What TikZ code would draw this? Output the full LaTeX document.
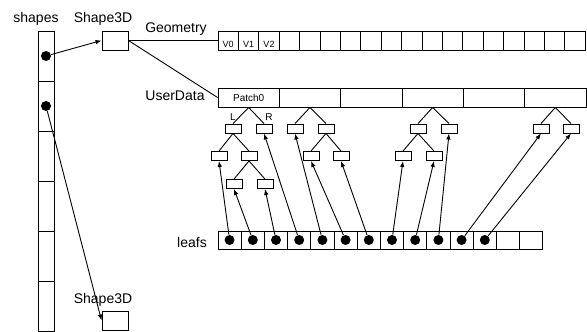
\documentclass[tikz,border=0pt]{standalone}
\usepackage{fontspec}
\setmainfont{Liberation Sans}
\usetikzlibrary{arrows.meta}

\tikzset{
  cell/.style={draw, inner sep=0pt, minimum height=19pt},
  tnode/.style={draw, inner sep=0pt, minimum width=16pt, minimum height=9pt},
  dot/.style={circle, fill=black, inner sep=0pt, minimum size=10pt},
  ptr/.style={-{Latex[length=6pt,width=4.5pt]}},
  lbl/.style={font=\fontsize{14}{16}\selectfont, inner sep=0pt, anchor=base},
  small/.style={font=\fontsize{9}{10}\selectfont, inner sep=0pt},
}

\begin{document}
\begin{tikzpicture}[x=1pt,y=-1pt,line width=0.9pt]
  \useasboundingbox (0,0) rectangle (587,332);
  % shapes array
  \node[lbl] (shapesl) at (36,23) {shapes};
  \foreach \i in {1,...,6}
    \node[cell, minimum width=16pt, minimum height=50pt] (s\i) at (46,{6+50*\i}) {};
  \node[dot] (d1) at (s1) {};
  \node[dot] (d2) at (s2) {};
  % the two Shape3D objects
  \node[lbl] (sh1l) at (103,23) {Shape3D};
  \node[cell, minimum width=26pt] (sh1) at (115,40.5) {};
  \node[lbl] (sh2l) at (103,303) {Shape3D};
  \node[cell, minimum width=26pt] (sh2) at (115,320.5) {};
  % geometry
  \node[lbl] (geoml) at (176,32) {Geometry};
  \foreach \i in {1,...,18}
    \node[cell, minimum width=20.4pt] (g\i) at ({207.8+20.4*\i},40.5) {};
  \foreach \i/\t in {1/V0,2/V1,3/V2}
    \node[small] (v\i) at ([yshift=-4pt]g\i.center) {\t};
  % user data patches
  \node[lbl] (userl) at (175,100) {UserData};
  \foreach \i in {1,...,6}
    \node[cell, minimum width=61.33pt] (u\i) at ({187.33+61.33*\i},97.5) {};
  \node[small, font=\fontsize{10}{11}\selectfont] (patch0) at (u1) {Patch0};
  % trees below the patches
  \node[tnode, label={[small, font=\fontsize{10}{11}\selectfont, label distance=3pt]above:L}] (a) at (233,128.5) {};
  \node[tnode, label={[small, font=\fontsize{10}{11}\selectfont, label distance=3pt, xshift=5pt]above:R}] (b) at (264,128.5) {};
  \node[tnode] (aa) at (219,156) {};
  \node[tnode] (ab) at (249,156) {};
  \node[tnode] (aba) at (234,184) {};
  \node[tnode] (abb) at (265,184) {};
  \node[tnode] (c) at (295,128.5) {};
  \node[tnode] (d) at (326,128.5) {};
  \node[tnode] (da) at (311,156) {};
  \node[tnode] (db) at (341,156) {};
  \node[tnode] (e) at (418,128.5) {};
  \node[tnode] (f) at (449,128.5) {};
  \node[tnode] (ea) at (403,156) {};
  \node[tnode] (eb) at (434,156) {};
  \node[tnode] (g) at (541,128.5) {};
  \node[tnode] (h) at (571,128.5) {};
  \foreach \p/\c in {u1/a,u1/b,a/aa,a/ab,ab/aba,ab/abb,u2/c,u2/d,d/da,d/db,
                     u4/e,u4/f,e/ea,e/eb,u6/g,u6/h}
    \draw (\p.south) -- (\c.north);
  % leafs array
  \node[lbl] (leafl) at (192,247) {leafs};
  \foreach \i in {1,...,14}
    \node[cell, minimum width=23.2pt, minimum height=18pt] (lf\i) at ({206.4+23.2*\i},240) {};
  \foreach \i in {1,...,12}
    \node[dot] (p\i) at (lf\i) {};
  \foreach \i/\b in {1/aa,2/aba,3/abb,4/b,5/c,6/da,7/db,8/ea,9/eb,10/f,11/g,12/h}
    \draw[ptr] (p\i) -- (\b.south);
  % pointers
  \draw[ptr] (d1) -- (sh1.west);
  \draw[ptr] (d2) -- (sh2.west);
  \draw (sh1.east) -- (g1.west);
  \draw (sh1.east) -- (u1.west);
\end{tikzpicture}
\end{document}
